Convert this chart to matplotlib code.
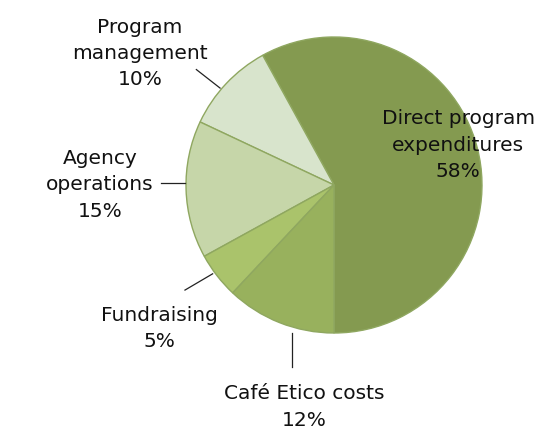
import numpy as np
import matplotlib
matplotlib.use('Agg')
import matplotlib.pyplot as plt

# slices, counter-clockwise from the bottom
labels = ['Direct program\nexpenditures', 'Program\nmanagement', 'Agency\noperations',
          'Fundraising', 'Café Etico costs']
shares = [58, 10, 15, 5, 12]
colors = ['#849A50', '#D8E4CC', '#C6D6A9', '#AAC36B', '#98B15D']

# label centres and leader lines (pie radius = 1)
label_pos = [(0.84, 0.27), (-1.31, 0.89), (-1.58, 0.0), (-1.18, -0.97), (-0.20, -1.50)]
leaders = [None,
           ((-0.77, 0.655), (-0.93, 0.78)),
           ((-1.007, 0.0135), (-1.17, 0.0135)),
           ((-0.82, -0.60), (-1.007, -0.71)),
           ((-0.284, -1.0), (-0.284, -1.23))]

fig = plt.figure(figsize=(5.4, 4.3), dpi=100)
ax = fig.add_axes([0, 0, 1, 1])

ax.pie(shares, colors=colors, startangle=-90, radius=1,
       wedgeprops=dict(edgecolor='#8FA760', linewidth=1.0))

for lab, val, pos, ld in zip(labels, shares, label_pos, leaders):
    ax.text(pos[0], pos[1], f'{lab}\n{val}%', ha='center', va='center',
            fontsize=14.5, color='#111111', linespacing=1.48)
    if ld:
        ax.plot([ld[0][0], ld[1][0]], [ld[0][1], ld[1][1]], color='#222222', lw=0.9)

ax.set_xlim(-334 / 148, (540 - 334) / 148)
ax.set_ylim((185 - 430) / 148, 185 / 148)
ax.set_aspect('auto')
ax.axis('off')

fig.savefig('out.png', dpi=100)
